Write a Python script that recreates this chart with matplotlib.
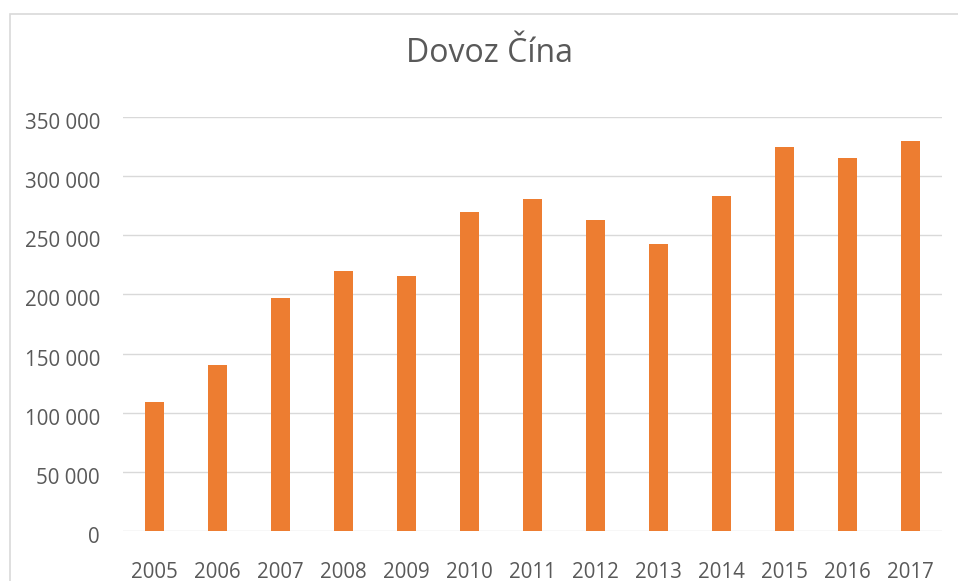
import matplotlib
matplotlib.use("Agg")
import matplotlib.pyplot as plt
from matplotlib.patches import Rectangle
from matplotlib.ticker import FuncFormatter
from matplotlib.transforms import ScaledTranslation

years = ["2005", "2006", "2007", "2008", "2009", "2010", "2011", "2012", "2013",
         "2014", "2015", "2016", "2017"]
values = [109000, 140000, 197000, 220000, 216000, 270000, 281000, 263000, 243000,
          283000, 325000, 315000, 330000]
title = "Dovoz Čína"

W, H = 958, 581
fig = plt.figure(figsize=(W / 100, H / 100), dpi=100)
plt.rcParams['font.family'] = ['Open Sans', 'DejaVu Sans']

# outer chart frame (extends beyond the right/bottom edge)
fig.patches.append(Rectangle((10 / W, -0.1), 1.2, (H - 14) / H + 0.1,
                             transform=fig.transFigure, fill=False,
                             edgecolor="#D9D9D9", linewidth=1.2))

ax = fig.add_axes([123 / W, (H - 531) / H, (942 - 123) / W, (531 - 117) / H])
x = list(range(len(years)))
ax.bar(x, values, width=0.317, color="#ED7D31", zorder=3)
ax.set_xlim(-0.5, len(years) - 0.5)
ax.set_ylim(0, 350000)
ax.set_yticks(range(0, 350001, 50000))
ax.yaxis.set_major_formatter(FuncFormatter(lambda v, p: f"{int(v):,}".replace(",", " ")))
ax.set_xticks(x)
ax.set_xticklabels(years)
ax.grid(axis="y", color="#D9D9D9", linewidth=1.0, zorder=0)
for s in ax.spines.values():
    s.set_visible(False)
ax.tick_params(axis="both", length=0, labelsize=14.8, labelcolor="#595959")
ax.tick_params(axis="y", pad=16.5)
ax.tick_params(axis="x", pad=22)

offset = ScaledTranslation(0, -4 / 100, fig.dpi_scale_trans)
for lbl in ax.get_yticklabels():
    lbl.set_transform(lbl.get_transform() + offset)

fig.text(490 / W, 1 - 54 / H, title, ha="center", va="center", fontsize=23, color="#595959")

fig.savefig("out.png", dpi=100)
